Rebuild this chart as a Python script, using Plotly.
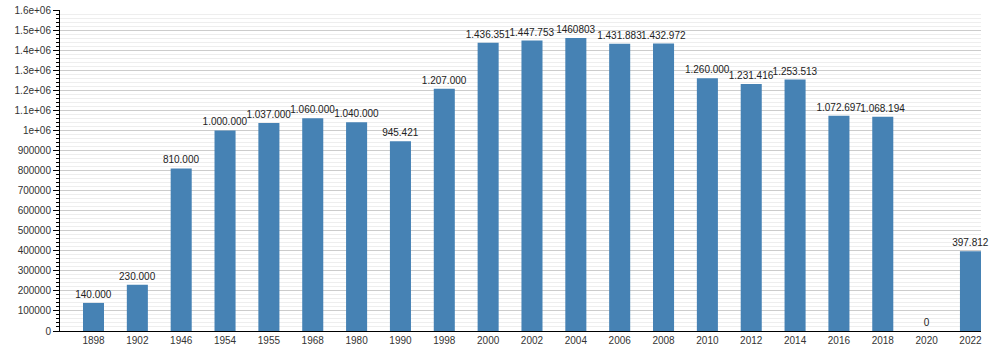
import plotly.graph_objects as go

years = ["1898", "1902", "1946", "1954", "1955", "1968", "1980", "1990", "1998", "2000",
         "2002", "2004", "2006", "2008", "2010", "2012", "2014", "2016", "2018", "2020", "2022"]
values = [140000, 230000, 810000, 1000000, 1037000, 1060000, 1040000, 945421, 1207000, 1436351,
          1447753, 1460803, 1431883, 1432972, 1260000, 1231416, 1253513, 1072697, 1068194, 0, 397812]
labels = ["140.000", "230.000", "810.000", "1.000.000", "1.037.000", "1.060.000", "1.040.000",
          "945.421", "1.207.000", "1.436.351", "1.447.753", "1460803", "1.431.883", "1.432.972",
          "1.260.000", "1.231.416", "1.253.513", "1.072.697", "1.068.194", "0", "397.812"]
ytick_vals = [0, 100000, 200000, 300000, 400000, 500000, 600000, 700000, 800000, 900000,
              1000000, 1100000, 1200000, 1300000, 1400000, 1500000, 1600000]
ytick_text = ["0", "100000", "200000", "300000", "400000", "500000", "600000", "700000",
              "800000", "900000", "1e+06", "1.1e+06", "1.2e+06", "1.3e+06", "1.4e+06",
              "1.5e+06", "1.6e+06"]

fig = go.Figure(go.Bar(
    x=list(range(len(years))),
    y=values,
    text=labels,
    textposition="outside",
    constraintext="none",
    cliponaxis=False,
    textfont=dict(family="Liberation Sans, Arial, sans-serif", size=10, color="#222"),
    marker=dict(color="#4682b4", line=dict(width=0)),
    width=0.48,
    hoverinfo="skip",
))

fig.update_layout(
    width=1000, height=350,
    margin=dict(l=60, r=19, t=10, b=19, autoexpand=False),
    paper_bgcolor="white", plot_bgcolor="white",
    font=dict(family="Liberation Sans, Arial, sans-serif", size=10, color="#333"),
    showlegend=False,
)
fig.update_xaxes(
    range=[-0.764, 20.24],
    tickvals=list(range(len(years))),
    ticktext=years,
    showgrid=False,
    showline=True, linecolor="black", linewidth=1,
    ticks="", zeroline=False, automargin=False,
    tickfont=dict(size=10, color="#333"),
)
fig.update_yaxes(
    range=[0, 1600000],
    tickvals=ytick_vals,
    ticktext=ytick_text,
    showline=True, linecolor="black", linewidth=1,
    ticks="outside", ticklen=6, tickcolor="black", tickwidth=1,
    showgrid=True, gridcolor="#cccccc", gridwidth=1,
    zeroline=False, automargin=False,
    minor=dict(dtick=20000, tick0=0, showgrid=True, gridcolor="#eeeeee", gridwidth=1,
               ticks="outside", ticklen=3, tickcolor="black"),
    tickfont=dict(size=10, color="#333"),
)

fig.write_html("out.html")
